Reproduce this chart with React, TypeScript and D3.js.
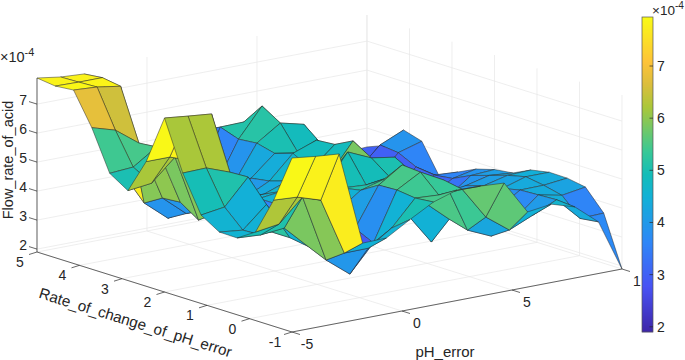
import React from 'react';
import * as d3 from 'd3';

// gensurf style grid, 15 points per input
const phError = [-5, -3.93, -2.86, -1.79, -0.71, 0.36, 1.43, 2.5, 3.57, 4.64, 5.71, 6.79, 7.86, 8.93, 10];
const ratePh = [5, 4.57, 4.14, 3.71, 3.29, 2.86, 2.43, 2, 1.57, 1.14, 0.71, 0.29, -0.14, -0.57, -1];

// flow rate (x 1e-4), one list per pH_error value
const flow00 = [7.9, 7.82, 7.88, 6.78, 5.4, 5.0, 6.2, 7.9, 6.2, 4.95, 4.56, 4.55, 4.95, 6.25, 7.9];
const flow01 = [7.78, 7.8, 7.83, 6.54, 5.46, 5.1, 6.2, 7.81, 6.22, 5.07, 4.47, 4.5, 5.07, 6.2, 7.8];
const flow02 = [7.73, 7.8, 7.7, 5.94, 6.0, 5.85, 5.92, 7.73, 5.92, 5.95, 5.2, 4.58, 5.85, 5.94, 7.73];
const flow03 = [4.6, 4.2, 3.52, 3.89, 3.94, 3.52, 3.96, 4.5, 3.6, 3.9, 3.9, 3.8, 3.52, 3.96, 4.5];
const flow04 = [3.6, 3.3, 2.84, 3.2, 3.5, 3.9, 4.3, 4.5, 4.5, 4.3, 4.0, 3.4, 2.88, 3.97, 4.52];
const flow05 = [3.4, 3.0, 3.0, 3.2, 3.5, 4.0, 4.3, 4.6, 4.6, 4.6, 4.5, 4.1, 3.8, 4.51, 5.0];
const flow06 = [3.2, 3.4, 3.6, 3.9, 4.3, 4.4, 4.6, 4.7, 4.8, 4.95, 5.07, 5.44, 5.47, 5.39, 5.45];
const flow07 = [5.0, 5.32, 5.1, 5.16, 5.0, 5.2, 4.85, 4.85, 5.84, 4.9, 5.3, 5.98, 5.93, 5.34, 5.71];
const flow08 = [4.6, 5.34, 6.09, 5.7, 4.86, 5.5, 5.55, 5.87, 5.48, 5.02, 3.9, 4.5, 5.5, 5.38, 5.69];
const flow09 = [4.6, 5.0, 5.0, 5.5, 5.0, 5.0, 5.1, 4.9, 5.35, 5.0, 2.82, 3.8, 3.62, 4.27, 5.64];
const flow10 = [4.3, 4.3, 4.3, 4.3, 4.2, 4.2, 4.2, 4.0, 4.2, 4.0, 3.9, 3.8, 3.26, 3.67, 4.49];
const flow11 = [3.8, 4, 4, 4, 3.8, 3.6, 3.6, 3.4, 3.8, 4, 3.9, 3.8, 3.7, 4.03, 4.6];
const flow12 = [3.4, 3.4, 3.2, 3, 3, 3.1, 3.1, 3.3, 3.9, 4.1, 4.2, 4.34, 4.37, 4.4, 4.35];
const flow13 = [3.3, 3, 3.97, 3.9, 3.6, 3.52, 3.6, 3.9, 4.1, 4.3, 4.45, 4.35, 4.2, 3.6, 3.68];
const flow14 = [3.35, 3.6, 4.33, 4.14, 3.1, 3.47, 3.77, 3.95, 4.03, 4.33, 4.45, 4.44, 4.33, 3.63, 1.9];
const flow = [flow00, flow01, flow02, flow03, flow04, flow05, flow06, flow07, flow08, flow09, flow10, flow11, flow12, flow13, flow14];

const xTicks = [-5, 0, 5, 10];
const yTicks = [-1, 0, 1, 2, 3, 4, 5];
const zTicks = [2, 3, 4, 5, 6, 7];
const cTicks = [2, 3, 4, 5, 6, 7];

const parulaStops = [
  [0.2422, 0.1504, 0.6603], [0.281, 0.3228, 0.9579], [0.1786, 0.5289, 0.9682], [0.0689, 0.6948, 0.8394],
  [0.08, 0.74, 0.72], [0.2161, 0.7843, 0.5923], [0.672, 0.7793, 0.2227], [0.86, 0.745, 0.24], [0.997, 0.7659, 0.2199], [0.9769, 0.9839, 0.0805],
];
const parulaPos = [0, 0.143, 0.286, 0.429, 0.5, 0.571, 0.714, 0.786, 0.857, 1];
const cLimits = [1.9, 7.94];

const parula = d3.scaleLinear<string>()
  .domain(parulaPos.map(p => cLimits[0] + p * (cLimits[1] - cLimits[0])))
  .range(parulaStops.map(c => d3.rgb(c[0] * 255, c[1] * 255, c[2] * 255).formatHex()))
  .clamp(true);

// oblique view of the box: each data axis has its own screen x and screen y scale
const xToPx = d3.scaleLinear().domain([-5, 10]).range([0, 330]);
const xToPy = d3.scaleLinear().domain([-5, 10]).range([0, -63]);
const yToPx = d3.scaleLinear().domain([5, -1]).range([37, 292]);
const yToPy = d3.scaleLinear().domain([5, -1]).range([252, 332]);
const zToPy = d3.scaleLinear().domain([1.9, 7.9]).range([0, -174]);

const project = (x: number, y: number, z: number): [number, number] => [
  xToPx(x) + yToPx(y),
  xToPy(x) + yToPy(y) + zToPy(z),
];

const pathOf = d3.line<[number, number]>().x(d => d[0]).y(d => d[1]);
const ink = '#262626';
const gridInk = '#e6e6e6';
const fontFamily = 'Liberation Sans, Arial, sans-serif';

const colorScale = d3.scaleLinear().domain(cLimits).range([332, 17]);

function Seg({ a, b, stroke = gridInk, w = 0.7 }: { a: [number, number]; b: [number, number]; stroke?: string; w?: number }) {
  return <line x1={a[0]} y1={a[1]} x2={b[0]} y2={b[1]} stroke={stroke} strokeWidth={w} />;
}

function Exponent({ x, y, size }: { x: number; y: number; size: number }) {
  return (
    <text x={x} y={y} fontSize={size} fill={ink} fontFamily={fontFamily}>
      ×10<tspan dy={-6} fontSize={size * 0.75}>-4</tspan>
    </text>
  );
}

export default function App() {
  const zMin = 1.9, zMax = 7.9;

  // cells from the far corner to the near one, colour from the low x, low y vertex
  const cells: { d: string; fill: string; key: string }[] = [];
  for (let i = phError.length - 2; i >= 0; i--) {
    for (let j = 0; j < ratePh.length - 1; j++) {
      const poly: [number, number][] = [
        project(phError[i], ratePh[j], flow[i][j]),
        project(phError[i + 1], ratePh[j], flow[i + 1][j]),
        project(phError[i + 1], ratePh[j + 1], flow[i + 1][j + 1]),
        project(phError[i], ratePh[j + 1], flow[i][j + 1]),
      ];
      cells.push({ key: `${i}-${j}`, d: pathOf(poly) + 'Z', fill: parula(flow[i][j + 1]) });
    }
  }

  const colorSteps = d3.range(315).map(k => 17 + k);

  return (
    <svg width={685} height={360} style={{ position: 'absolute', left: 0, top: 0, background: '#fff' }}>
      {/* back walls and floor grid */}
      {xTicks.map(x => (
        <g key={`gx${x}`}>
          <Seg a={project(x, 5, zMin)} b={project(x, 5, zMax)} />
          <Seg a={project(x, 5, zMin)} b={project(x, -1, zMin)} />
        </g>
      ))}
      {yTicks.map(y => (
        <g key={`gy${y}`}>
          <Seg a={project(10, y, zMin)} b={project(10, y, zMax)} />
          <Seg a={project(-5, y, zMin)} b={project(10, y, zMin)} />
        </g>
      ))}
      {zTicks.map(z => (
        <g key={`gz${z}`}>
          <Seg a={project(-5, 5, z)} b={project(10, 5, z)} />
          <Seg a={project(10, 5, z)} b={project(10, -1, z)} />
        </g>
      ))}

      {/* axis lines */}
      <Seg a={project(-5, 5, zMin)} b={project(-5, 5, zMax)} stroke={ink} w={0.7} />
      <Seg a={project(-5, 5, zMin)} b={project(-5, -1, zMin)} stroke={ink} w={0.7} />
      <Seg a={project(-5, -1, zMin)} b={project(10, -1, zMin)} stroke={ink} w={0.7} />

      {cells.map(c => (
        <path key={c.key} d={c.d} fill={c.fill} stroke="#2a2a2a" strokeWidth={0.5} strokeLinejoin="round" />
      ))}

      {/* ticks */}
      {zTicks.map(z => {
        const p = project(-5, 5, z);
        return (
          <g key={`tz${z}`}>
            <line x1={p[0]} y1={p[1]} x2={p[0] - 8} y2={p[1] - 2.5} stroke={ink} strokeWidth={0.7} />
            <text x={p[0] - 10} y={p[1] + 1} textAnchor="end" fontSize={14} fill={ink} fontFamily={fontFamily}>{z}</text>
          </g>
        );
      })}
      {yTicks.map(y => {
        const p = project(-5, y, zMin);
        return (
          <g key={`ty${y}`}>
            <line x1={p[0]} y1={p[1]} x2={p[0] - 8} y2={p[1] + 2.5} stroke={ink} strokeWidth={0.7} />
            <text x={p[0] - 17} y={p[1] + 15} textAnchor="middle" fontSize={14} fill={ink} fontFamily={fontFamily}>{y}</text>
          </g>
        );
      })}
      {xTicks.map(x => {
        const p = project(x, -1, zMin);
        return (
          <g key={`tx${x}`}>
            <line x1={p[0]} y1={p[1]} x2={p[0] + 8} y2={p[1] + 2.5} stroke={ink} strokeWidth={0.7} />
            <text x={p[0] + 15} y={p[1] + 17} textAnchor="middle" fontSize={14} fill={ink} fontFamily={fontFamily}>{x === 10 ? '1' : x}</text>
          </g>
        );
      })}

      {/* axis titles */}
      <text transform="translate(13,160) rotate(-90)" textAnchor="middle" fontSize={14.5} fill={ink} fontFamily={fontFamily}>Flow_rate_of_acid</text>
      <text transform="translate(134,327.5) rotate(17.3)" textAnchor="middle" fontSize={15.2} fill={ink} fontFamily={fontFamily}>Rate_of_change_of_pH_error</text>
      <text x={445} y={357} textAnchor="middle" fontSize={15} fill={ink} fontFamily={fontFamily}>pH_error</text>
      <Exponent x={0} y={62} size={14.5} />

      {/* colorbar */}
      {colorSteps.map(y => (
        <rect key={y} x={642} y={y} width={11} height={1.2} fill={parula(colorScale.invert(y + 0.5))} />
      ))}
      <rect x={642} y={17} width={11} height={315} fill="none" stroke="#555" strokeWidth={0.7} />
      {cTicks.map(t => (
        <g key={`c${t}`}>
          <line x1={649.5} x2={653} y1={colorScale(t)} y2={colorScale(t)} stroke={ink} strokeWidth={0.7} />
          <text x={657} y={colorScale(t) + 5} fontSize={14} fill={ink} fontFamily={fontFamily}>{t}</text>
        </g>
      ))}
      <Exponent x={652} y={15} size={13.5} />
    </svg>
  );
}
